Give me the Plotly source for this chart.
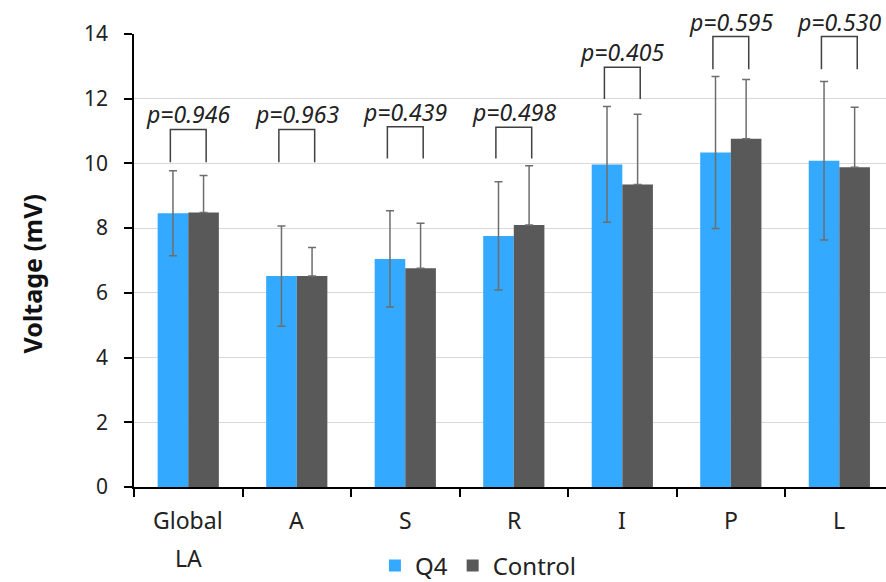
import plotly.graph_objects as go

# Regional left-atrial voltage, Q4 vs Control (mean ± SD)
categories = ["Global LA", "A", "S", "R", "I", "P", "L"]
q4_mean = [8.46, 6.52, 7.05, 7.76, 9.97, 10.34, 10.08]
q4_sd = [1.31, 1.55, 1.49, 1.67, 1.79, 2.35, 2.45]
ctrl_mean = [8.48, 6.52, 6.76, 8.10, 9.35, 10.76, 9.88]
ctrl_sd = [1.15, 0.88, 1.39, 1.83, 2.17, 1.83, 1.86]
p_values = ["0.946", "0.963", "0.439", "0.498", "0.405", "0.595", "0.530"]

# Heights (mV) of the comparison brackets above each group
bracket_base = [10.04, 10.04, 10.15, 10.15, 11.99, 12.91, 12.91]
bracket_top = [11.05, 11.05, 11.13, 11.12, 12.97, 13.92, 13.92]

FONT = "Noto Sans, sans-serif"
BLUE = "#33A9FF"
GRAY = "#595959"
ERR = "#6e6e6e"

x_idx = list(range(len(categories)))

fig = go.Figure()
fig.add_trace(go.Bar(
    x=x_idx, y=q4_mean, name="Q4",
    marker=dict(color=BLUE, line=dict(width=0)),
    error_y=dict(type="data", array=q4_sd, symmetric=True,
                 color=ERR, thickness=1.5, width=4),
))
fig.add_trace(go.Bar(
    x=x_idx, y=ctrl_mean, name="Control",
    marker=dict(color=GRAY, line=dict(width=0)),
    error_y=dict(type="data", array=ctrl_sd, arrayminus=[0] * len(ctrl_sd),
                 symmetric=False, color=ERR, thickness=1.5, width=4),
))

shapes = []
annotations = []
half = 0.165
for i, (b, t, p) in enumerate(zip(bracket_base, bracket_top, p_values)):
    shapes.append(dict(
        type="path", xref="x", yref="y",
        path=f"M {i - half},{b} L {i - half},{t} L {i + half},{t} L {i + half},{b}",
        line=dict(color="#404040", width=1.5),
    ))
    annotations.append(dict(
        x=i, y=t, xref="x", yref="y", yshift=15,
        text=f"<i>p={p}</i>", showarrow=False,
        xanchor="center", yanchor="middle",
        font=dict(family=FONT, size=23, color="#222222"),
    ))

# Category labels under the axis, one line per word
for i, cat in enumerate(categories):
    for k, line in enumerate(cat.split(" ")):
        annotations.append(dict(
            x=i, y=0, xref="x", yref="paper", yshift=-33 - 38 * k,
            text=line, showarrow=False, xanchor="center", yanchor="middle",
            font=dict(family=FONT, size=23, color="#222222"),
        ))

annotations.append(dict(
    x=(31 - 134) / 752, y=0.5, xref="paper", yref="paper", yshift=-14,
    text="<b>Voltage (mV)</b>", textangle=-90, showarrow=False,
    xanchor="center", yanchor="middle",
    font=dict(family=FONT, size=25, color="#111111"),
))

fig.update_layout(
    width=886, height=582,
    margin=dict(l=134, r=0, t=34, b=95, autoexpand=False),
    paper_bgcolor="white", plot_bgcolor="white",
    barmode="group", bargap=0.436, bargroupgap=0,
    font=dict(family=FONT, color="#222222"),
    showlegend=True,
    legend=dict(
        orientation="h", x=0.458, y=-0.174, xanchor="center", yanchor="middle",
        font=dict(family=FONT, size=24, color="#222222"),
        itemwidth=30, tracegroupgap=0,
    ),
    shapes=shapes,
    annotations=annotations,
)
fig.update_xaxes(
    range=[-0.5, 6.43],
    tickmode="array", tickvals=[i - 0.5 for i in range(len(categories) + 1)],
    showticklabels=False,
    ticks="outside", ticklen=8, tickcolor="black", tickwidth=1.5,
    showline=True, linecolor="black", linewidth=1.5,
    showgrid=False, zeroline=False,
)
fig.update_yaxes(
    range=[0, 14], dtick=2,
    ticks="outside", ticklen=8, tickcolor="black", tickwidth=1.5,
    showline=True, linecolor="black", linewidth=1.5,
    showgrid=True, gridcolor="#d9d9d9", gridwidth=1,
    zeroline=False,
    tickfont=dict(family=FONT, size=21, color="#222222"),
    ticklabelstandoff=12,
)

fig.write_html("out.html")
